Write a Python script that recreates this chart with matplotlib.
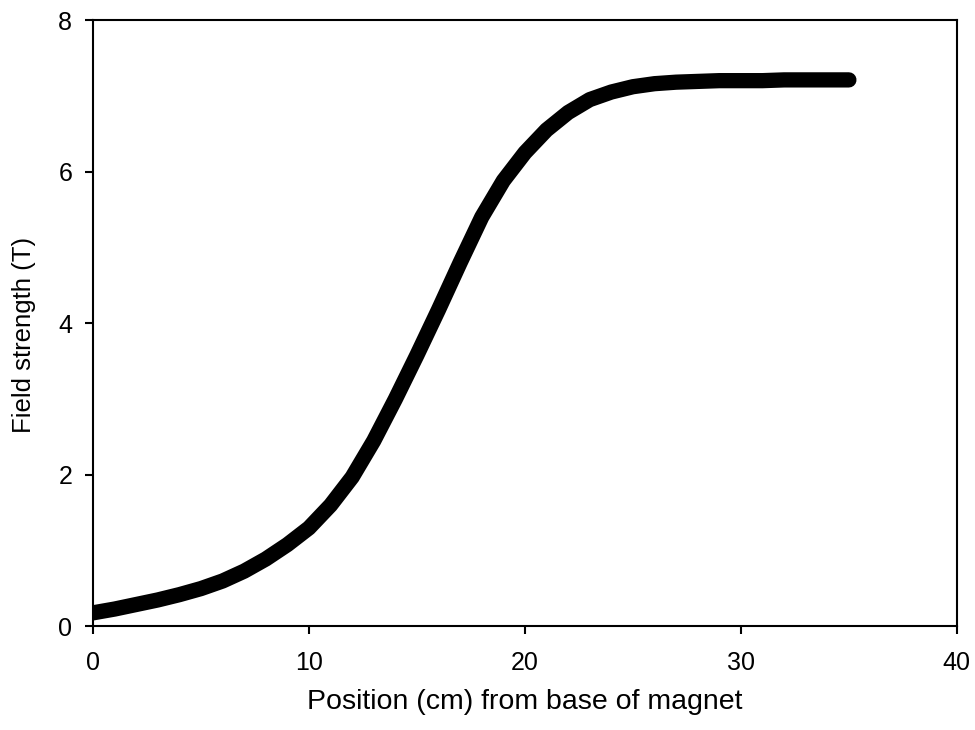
import numpy as np
from matplotlib import pyplot as plt

plt.rcParams['font.family'] = ['Liberation Sans', 'DejaVu Sans']

# Values
position_cm = [0, 1, 2, 3, 4, 5, 6, 7, 8, 9, 10, 11, 12, 13, 14, 15, 16, 17, 18,
               19, 20, 21, 22, 23, 24, 25, 26, 27, 28, 29, 30, 31, 32, 33, 34, 35]
field_T = [0.18, 0.23, 0.29, 0.35, 0.42, 0.50, 0.60, 0.73, 0.89, 1.08, 1.30, 1.60,
           1.97, 2.45, 3.00, 3.58, 4.18, 4.80, 5.40, 5.88, 6.25, 6.55, 6.78, 6.95,
           7.05, 7.12, 7.16, 7.18, 7.19, 7.20, 7.20, 7.20, 7.21, 7.21, 7.21, 7.21]

x_ticks = [0, 10, 20, 30, 40]
y_ticks = [0, 2, 4, 6, 8]

fig = plt.figure(figsize=(9.75, 7.3), dpi=100)
ax = fig.add_axes([0.0954, 0.1418, 0.886, 0.8308])

# thick black band of overlapping points
ax.plot(position_cm, field_T, color='black', linewidth=11,
        solid_capstyle='round', solid_joinstyle='round')

ax.set_xlim(0, 40)
ax.set_ylim(0, 8)
ax.set_xticks(x_ticks)
ax.set_yticks(y_ticks)
ax.tick_params(direction='out', length=6, width=1.5, labelsize=18)
ax.tick_params(axis='x', pad=12)
ax.tick_params(axis='y', pad=9)
for s in ax.spines.values():
    s.set_linewidth(1.5)

ax.set_xlabel('Position (cm) from base of magnet', fontsize=20.5, labelpad=10)
ax.set_ylabel('Field strength (T)', fontsize=18.5, labelpad=16)
ax.yaxis.label.set_y(0.48)

fig.savefig('out.png', dpi=100)
